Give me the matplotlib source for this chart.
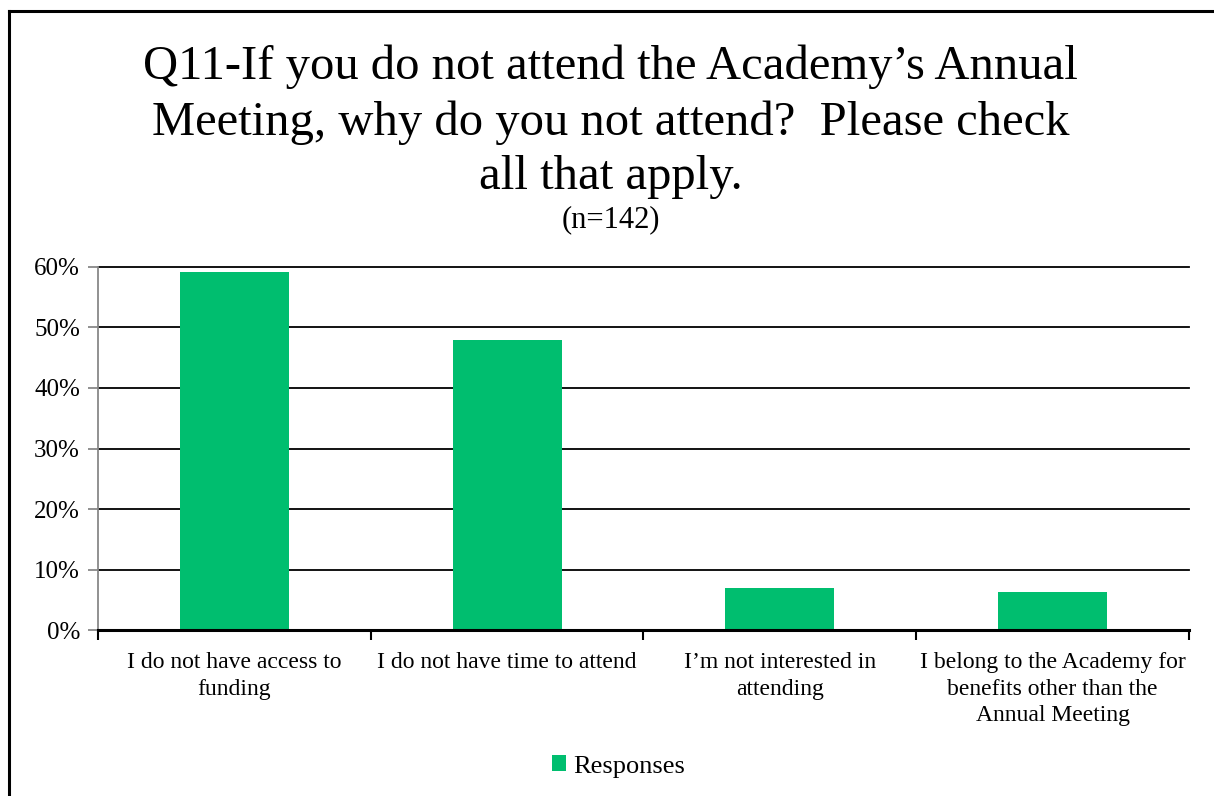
import matplotlib.pyplot as plt
import matplotlib
from matplotlib.lines import Line2D
from matplotlib.ticker import PercentFormatter, FixedLocator

matplotlib.rcParams['font.family'] = 'Liberation Serif'

# dados
categorias = ['I do not have access to\nfunding',
              'I do not have time to attend',
              'I\u2019m not interested in\nattending',
              'I belong to the Academy for\nbenefits other than the\nAnnual Meeting']
respostas = [59.2, 47.9, 7.0, 6.3]
titulo = 'Q11-If you do not attend the Academy\u2019s Annual\nMeeting, why do you not attend?  Please check\nall that apply.'
subtitulo = '(n=142)'
verde = '#00BE6F'

fig = plt.figure(figsize=(12.14, 7.96), dpi=100)
ax = fig.add_axes([0.0807, 0.2085, 0.8987, 0.4561])

x = range(len(categorias))
ax.bar(x, respostas, width=0.4, color=verde, label='Responses', zorder=3)

ax.set_xlim(-0.5, len(categorias) - 0.5)
ax.set_ylim(0, 60)
ax.set_yticks(range(0, 61, 10))
ax.yaxis.set_major_formatter(PercentFormatter(decimals=0))
ax.grid(axis='y', color='black', linewidth=1.3, zorder=0)
for linha in ax.get_ygridlines():
    linha.set_clip_on(False)

# ticks do eixo x nos limites das categorias
ax.set_xticks(list(x))
ax.set_xticklabels(categorias, fontsize=17, linespacing=1.35)
ax.tick_params(axis='x', which='major', length=0, pad=16)
ax.xaxis.set_minor_locator(FixedLocator([i - 0.5 for i in range(len(categorias) + 1)]))
ax.tick_params(axis='x', which='minor', length=7, width=1.5, color='black')
ax.tick_params(axis='y', length=7, width=1.3, color='#888888', labelsize=18, pad=6)

for lado in ['top', 'right']:
    ax.spines[lado].set_visible(False)
ax.spines['left'].set_color('#888888')
ax.spines['left'].set_linewidth(1.3)
ax.spines['bottom'].set_linewidth(2.2)
ax.spines['bottom'].set_zorder(4)

fig.text(0.503, 0.944, titulo, ha='center', va='top', fontsize=35, linespacing=1.32)
fig.text(0.503, 0.724, subtitulo, ha='center', va='center', fontsize=22)

fig.legend(loc='center', bbox_to_anchor=(0.5095, 0.037), frameon=False, fontsize=19,
           handlelength=0.53, handleheight=0.53, handletextpad=0.27)

# moldura (esquerda e topo)
fig.add_artist(Line2D([0.0075, 0.0075], [0, 0.986], transform=fig.transFigure, color='black', linewidth=2.2))
fig.add_artist(Line2D([0.0075, 1], [0.986, 0.986], transform=fig.transFigure, color='black', linewidth=2.2))

plt.savefig('out.png', dpi=100)
